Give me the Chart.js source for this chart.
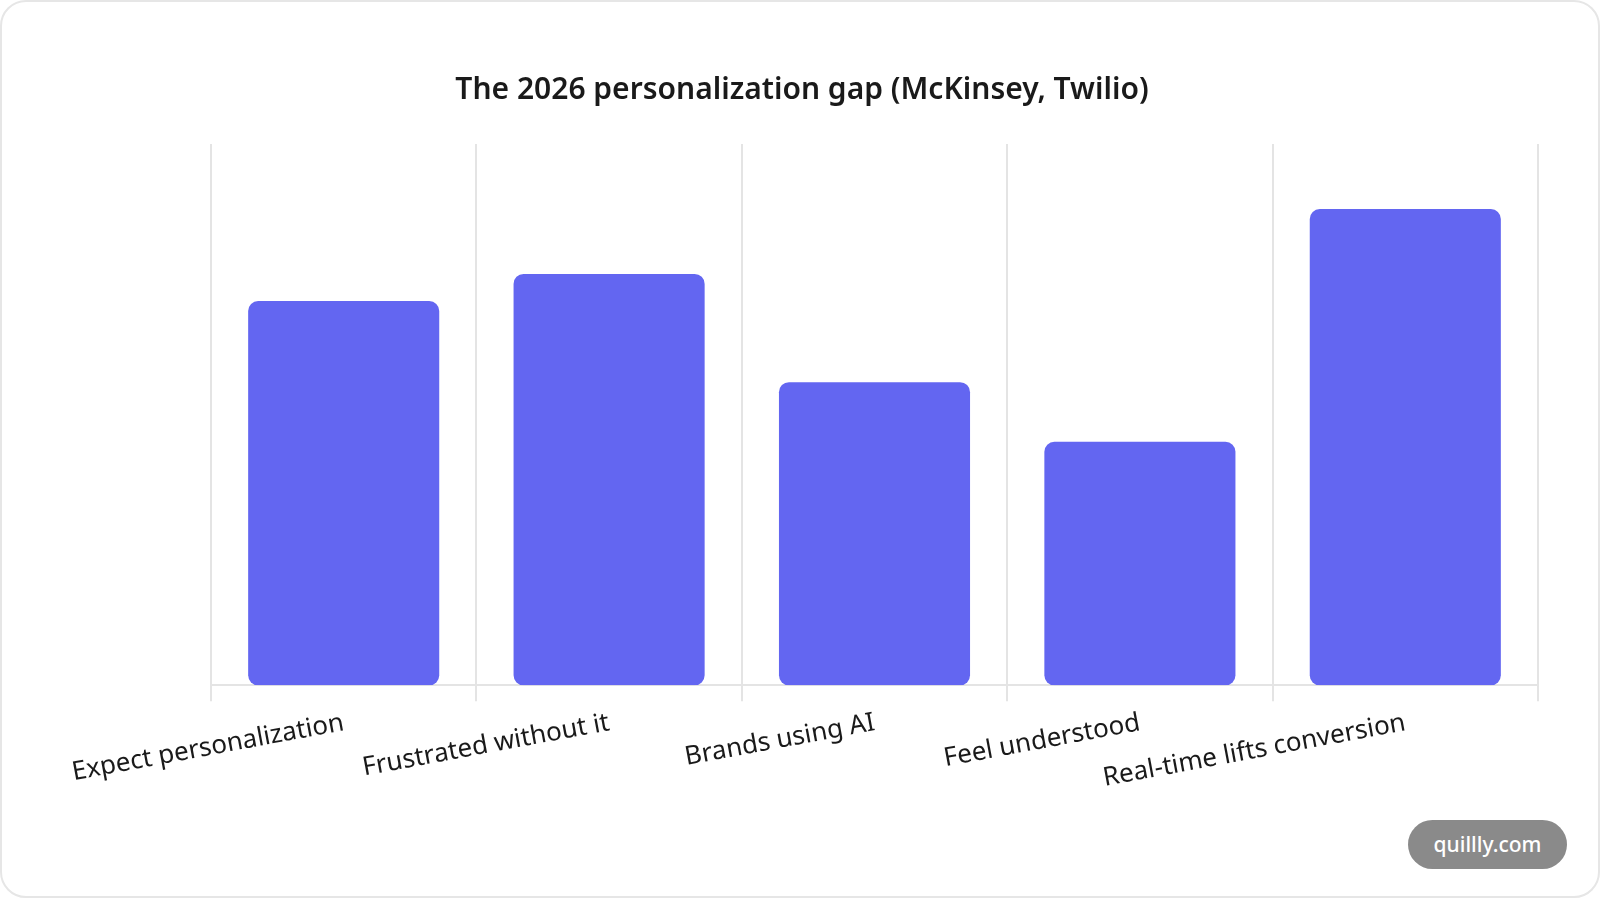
<!DOCTYPE html>
<html>
<head>
<meta charset="utf-8">
<script src="https://cdn.jsdelivr.net/npm/chart.js@4.4.1/dist/chart.umd.min.js"></script>
<style>
  html, body { margin: 0; padding: 0; background: #fff; }
  .card {
    position: absolute; left: 0; top: 0; width: 1600px; height: 898px;
    box-sizing: border-box; border: 2px solid #e6e6e6; border-radius: 26px; background: #fff;
    overflow: hidden;
  }
  .wrap { position: absolute; left: 0; top: 0; width: 1600px; height: 898px; }
  .badge {
    position: absolute; left: 1406px; top: 818px; width: 159px; height: 49px;
    border-radius: 25px; background: #8a8a8a; color: #fff;
    font: 500 21px "Noto Sans", sans-serif; line-height: 49px; text-align: center;
  }
</style>
</head>
<body>
<div class="card">
  <div class="wrap"><canvas id="chart" width="1600" height="898"></canvas></div>
  <div class="badge">quillly.com</div>
</div>
<script>
const labels = ['Expect personalization', 'Frustrated without it', 'Brands using AI', 'Feel understood', 'Real-time lifts conversion'];
const values = [71, 76, 56, 45, 88];

new Chart(document.getElementById('chart'), {
  type: 'bar',
  data: {
    labels,
    datasets: [{ data: values, backgroundColor: '#6366f1', borderRadius: 10, borderSkipped: false }]
  },
  options: {
    responsive: false,
    animation: false,
    layout: { padding: { left: 64, right: 64, top: 52, bottom: 100 } },
    plugins: {
      legend: { display: false },
      tooltip: { enabled: false },
      title: {
        display: true,
        text: 'The 2026 personalization gap (McKinsey, Twilio)',
        color: '#1a1a1a',
        font: { family: '"Noto Sans", sans-serif', size: 30, weight: '600' },
        padding: { top: 18, bottom: 36 }
      }
    },
    scales: {
      y: { display: false, min: 0, max: 100 },
      x: {
        // keep room on the left for the rotated first label
        afterFit: (scale) => { scale.paddingLeft = 209; },
        grid: { color: '#e4e4e4', lineWidth: 2, tickLength: 16 },
        border: { color: '#e4e4e4', width: 2 },
        ticks: {
          color: '#1a1a1a', minRotation: 10.5, maxRotation: 10.5, padding: 6,
          font: { family: '"Noto Sans", sans-serif', size: 26 }
        }
      }
    }
  }
});
</script>
</body>
</html>
